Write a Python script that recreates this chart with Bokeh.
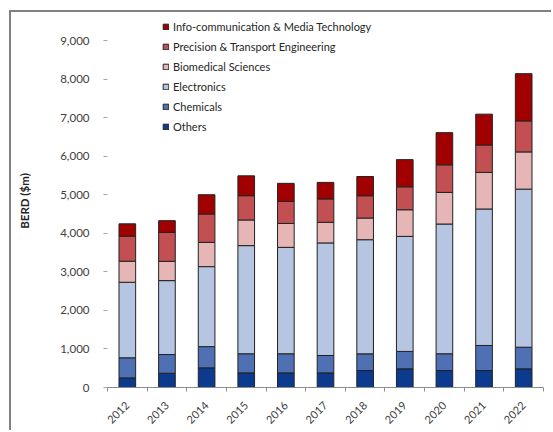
from bokeh.plotting import figure
from bokeh.models import Range1d, FixedTicker, NumeralTickFormatter, Legend, LegendItem, ColumnDataSource
from bokeh.embed import file_html
from bokeh.resources import INLINE
import math

years = ["2012", "2013", "2014", "2015", "2016", "2017", "2018", "2019", "2020", "2021", "2022"]
others = [250, 370, 510, 380, 380, 380, 440, 485, 440, 440, 485]
chemicals = [520, 485, 550, 495, 495, 450, 433, 450, 435, 650, 560]
electronics = [1960, 1917, 2075, 2805, 2760, 2920, 2960, 2985, 3365, 3540, 4100]
biomedical = [545, 500, 630, 665, 620, 535, 562, 690, 820, 950, 965]
precision = [650, 750, 735, 630, 570, 605, 578, 595, 715, 710, 805]
infocomm = [320, 305, 500, 515, 470, 430, 500, 705, 835, 800, 1225]

series = ["Others", "Chemicals", "Electronics", "Biomedical Sciences",
          "Precision & Transport Engineering", "Info-communication & Media Technology"]
colors = ["#0b3a8e", "#4f70b2", "#b6c5e1", "#e6b6b6", "#c24f51", "#a00000"]
y_ticks = [0, 1000, 2000, 3000, 4000, 5000, 6000, 7000, 8000, 9000]
y_axis_max = 9000

idx = list(range(len(years)))
src = ColumnDataSource(dict(x=idx, Others=others, Chemicals=chemicals, Electronics=electronics,
                            **{"Biomedical Sciences": biomedical,
                               "Precision & Transport Engineering": precision,
                               "Info-communication & Media Technology": infocomm}))

W, H = 542, 420
top_b, bot_b = 2, 45
frame_h = H - top_b - bot_b          # px
axis_px = frame_h - 26               # px used by 0..9000
y_end = y_axis_max * frame_h / axis_px

p = figure(width=W, height=H, output_backend="svg", toolbar_location=None,
           x_range=Range1d(-0.5, len(years) - 0.5), y_range=Range1d(0, y_end),
           min_border_left=96, min_border_right=10, min_border_top=top_b, min_border_bottom=bot_b)
p.styles = {"margin-left": "9px", "margin-top": "10px",
            "border-top": "2px solid #808080", "border-left": "2px solid #808080"}
p.outline_line_color = None
p.xgrid.visible = False
p.ygrid.visible = False
p.background_fill_color = "white"
p.border_fill_color = "white"

renderers = p.vbar_stack(series, x="x", width=0.42, source=src, fill_color=colors,
                         line_color="#222222", line_width=1)

font = "Lato"
# x axis
xa = p.xaxis[0]
xa.ticker = FixedTicker(ticks=idx, minor_ticks=[i - 0.5 for i in range(len(years) + 1)])
xa.major_label_overrides = {i: y for i, y in zip(idx, years)}
xa.major_label_orientation = math.pi / 4
xa.major_tick_line_color = None
xa.major_tick_out = 0
xa.major_tick_in = 0
xa.minor_tick_out = 4
xa.minor_tick_in = 0
xa.minor_tick_line_color = "#8c8c8c"
xa.axis_line_color = "#8c8c8c"
xa.major_label_standoff = 12
xa.major_label_text_font = font
xa.major_label_text_font_size = "11px"
xa.major_label_text_color = "#404040"

# y axis
ya = p.yaxis[0]
ya.ticker = FixedTicker(ticks=y_ticks, minor_ticks=[])
ya.formatter = NumeralTickFormatter(format="0,0")
ya.axis_line_color = None
ya.major_tick_out = 4
ya.major_tick_in = 0
ya.major_tick_line_color = "#a6a6a6"
ya.minor_tick_line_color = None
ya.major_label_standoff = 14
ya.major_label_text_font = font
ya.major_label_text_font_size = "11.5px"
ya.major_label_text_color = "#404040"
ya.axis_label = "BERD ($m)"
ya.axis_label_text_font = font
ya.axis_label_text_font_size = "11.5px"
ya.axis_label_text_font_style = "bold"
ya.axis_label_text_color = "#222222"
ya.axis_label_standoff = 26

items = [LegendItem(label=s, renderers=[r]) for s, r in zip(series, renderers)][::-1]
legend = Legend(items=items, location=(55, 252), orientation="vertical",
                glyph_width=7, glyph_height=7, label_height=17, spacing=3, padding=0, margin=0,
                label_standoff=4, label_text_font=font, label_text_font_size="11px",
                label_text_color="#262626", border_line_color=None, background_fill_alpha=0)
p.add_layout(legend, "center")

open("out.html", "w").write(file_html(p, INLINE))
